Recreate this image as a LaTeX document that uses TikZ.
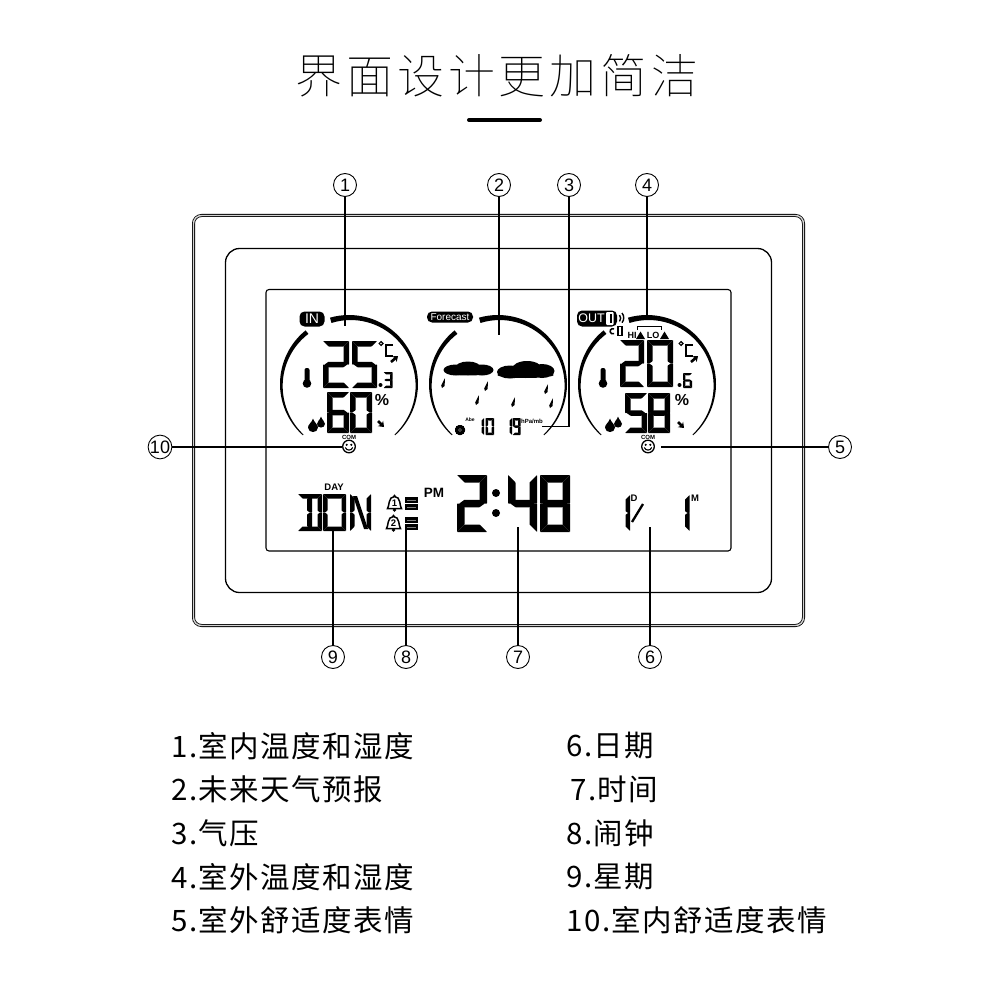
\documentclass[tikz,border=0pt]{standalone}
\usepackage{fontspec}
\setmainfont{Noto Sans CJK SC}
\setsansfont{Liberation Sans}
\newfontfamily\titlefont[LetterSpace=8]{Noto Sans CJK SC Thin}
\newfontfamily\listfont[LetterSpace=5]{Noto Sans CJK SC}
\usetikzlibrary{arrows.meta}
\tikzset{
  callout/.style={draw,circle,line width=0.9pt,minimum size=23pt,inner sep=0pt,font=\sffamily\fontsize{18}{18}\selectfont},
  leader/.style={line width=1.1pt},
  listitem/.style={anchor=west,inner sep=0pt,font=\listfont\fontsize{29.5}{29.5}\selectfont},
  badge/.style={fill=black,rounded corners=5pt,inner sep=0pt,text=white},
  tiny/.style={inner sep=0pt,font=\sffamily\bfseries\fontsize{#1}{#1}\selectfont},
  trend/.style={line width=2.6pt,-{Stealth[length=5pt,width=7.5pt]}},
}
\newcommand{\lcd}[6]{%
  \begin{scope}[shift={(#1,#2)},rounded corners=0.5pt]
    \def\segw{#3}\def\segh{#4}\def\segt{#5}
    \foreach \seg in {#6} \csname lcdseg\seg\endcsname;
  \end{scope}}
\newcommand{\lcdsega}{\fill (0,0)--(\segw,0)--({\segw-\segt},\segt)--(\segt,\segt)--cycle}
\newcommand{\lcdsegd}{\fill (0,\segh)--(\segw,\segh)--({\segw-\segt},{\segh-\segt})--(\segt,{\segh-\segt})--cycle}
\newcommand{\lcdsegf}{\fill (0,0)--(\segt,\segt)--(\segt,{\segh/2-0.4*\segt})--(0.4*\segt,{\segh/2})--(0,{\segh/2})--cycle}
\newcommand{\lcdsege}{\fill (0,\segh)--(\segt,{\segh-\segt})--(\segt,{\segh/2+0.4*\segt})--(0.4*\segt,{\segh/2})--(0,{\segh/2})--cycle}
\newcommand{\lcdsegb}{\fill (\segw,0)--({\segw-\segt},\segt)--({\segw-\segt},{\segh/2-0.4*\segt})--({\segw-0.4*\segt},{\segh/2})--(\segw,{\segh/2})--cycle}
\newcommand{\lcdsegc}{\fill (\segw,\segh)--({\segw-\segt},{\segh-\segt})--({\segw-\segt},{\segh/2+0.4*\segt})--({\segw-0.4*\segt},{\segh/2})--(\segw,{\segh/2})--cycle}
\newcommand{\lcdsegg}{\fill (0.3*\segt,{\segh/2})--(\segt,{\segh/2-\segt/2})--({\segw-\segt},{\segh/2-\segt/2})--({\segw-0.3*\segt},{\segh/2})--({\segw-\segt},{\segh/2+\segt/2})--(\segt,{\segh/2+\segt/2})--cycle}
\newcommand{\gaugearc}[5]{%
  \fill plot[domain=#2:#3,samples=40] ({#1+69*cos(\x)},{384+69*sin(\x)})
    -- plot[domain=#3:#2,samples=40] ({#1+(69-1-(#4-1)*pow((#3-\x)/(#3-#2),#5))*cos(\x)},{384+(69-1-(#4-1)*pow((#3-\x)/(#3-#2),#5))*sin(\x)}) -- cycle;}
\newcommand{\drop}[3]{%
  \fill (#1,{#2-1.7*#3}) .. controls ({#1+0.3*#3},{#2-0.8*#3}) and ({#1+#3},{#2-0.5*#3}) .. ({#1+#3},{#2+0.1*#3})
    .. controls ({#1+#3},{#2+0.7*#3}) and ({#1+0.5*#3},{#2+#3}) .. (#1,{#2+#3})
    .. controls ({#1-0.5*#3},{#2+#3}) and ({#1-#3},{#2+0.7*#3}) .. ({#1-#3},{#2+0.1*#3})
    .. controls ({#1-#3},{#2-0.5*#3}) and ({#1-0.3*#3},{#2-0.8*#3}) .. (#1,{#2-1.7*#3});}
\newcommand{\thermo}[2]{%
  \fill[rounded corners=2pt] ({#1-2.5},{#2-10}) rectangle ({#1+2.5},{#2+4});
  \fill (#1,{#2+5.5}) circle (4.3);}
\newcommand{\smiley}[2]{%
  \draw[line width=1.3pt] (#1,#2) circle (6.3);
  \fill ({#1-2.3},{#2-1.7}) circle (1.2) ({#1+2.3},{#2-1.7}) circle (1.2);
  \draw[line width=1.1pt] ({#1-3.8},{#2+1}) .. controls ({#1-2},{#2+4.5}) and ({#1+2},{#2+4.5}) .. ({#1+3.8},{#2+1});}
\newcommand{\raindrop}[2]{\fill ({#1+2},{#2-5})--({#1+1.6},{#2+3})--({#1-1},{#2+5})--({#1-1.8},{#2+2.5})--cycle;}
\newcommand{\bell}[4]{%
  \draw[line width=1.5pt,fill=white] ({#1-7},{#2+5}) .. controls ({#1-5},{#2+3}) and ({#1-6.5},{#2-7}) .. (#1,{#2-7})
    .. controls ({#1+6.5},{#2-7}) and ({#1+5},{#2+3}) .. ({#1+7},{#2+5}) -- cycle;
  \fill (#1,{#2+6.5}) circle (1.8) (#1,{#2-8}) circle (1.2);
  \node[tiny=9.5] (#3) at (#1,{#2-0.5}) {#4};}
\begin{document}
\begin{tikzpicture}[x=1pt,y=-1pt,line width=0.8pt]
\path[use as bounding box] (0,0) rectangle (1000,1000);
\node[inner sep=0pt,font=\titlefont\fontsize{47}{47}\selectfont] (title) at (497,76) {界面设计更加简洁};
\draw[line width=4pt,line cap=round] (469,120)--(540,120);
\draw[line width=0.8pt,double=gray!35,double distance=1.4pt,rounded corners=8pt] (193.5,215.5) rectangle (803.5,625.5);
\draw[line width=1.3pt,rounded corners=14pt] (225.5,248.5) rectangle (771.5,592.5);
\draw[line width=1.1pt,rounded corners=3pt] (266,289.5) rectangle (731,551);
\foreach \cx in {349,498,647} {
  \gaugearc{\cx}{-106}{48}{5.5}{1}
  \gaugearc{\cx}{231}{132}{4.5}{1}
}
\node[badge,minimum width=25pt,minimum height=15pt,font=\sffamily\fontsize{14}{14}\selectfont] (badgein) at (312,319) {IN};
\node[badge,minimum width=46pt,minimum height=11pt,font=\sffamily\fontsize{10}{10}\selectfont] (badgefc) at (450,317) {Forecast};
\node[badge,minimum width=40pt,minimum height=16pt] (badgeout) at (597,318.5) {};
\node[inner sep=0pt,text=white,font=\sffamily\fontsize{12.5}{12.5}\selectfont] (outtext) at (591.5,318.5) {OUT};
\fill[white,rounded corners=1pt] (606,312) rectangle (613.5,325);
\fill (610,314) rectangle (612,323);
\draw[line width=1.4pt] (619.5,315) arc (-40:40:5) (622,313) arc (-40:40:7.5);
\draw[line width=1.5pt] (614,329) arc (-60:-300:2.6);
\draw[line width=1.2pt] (618,326.5) rectangle (622,335.5);
\draw[line width=0.9pt] (637,330) |- (661,326) -- (661,330);
\node[tiny=9] (hi) at (632,335.5) {HI};
\node[tiny=9] (lo) at (653,335.5) {LO};
\fill (636,339)--(640.5,331.5)--(645,339)--cycle;
\fill (660,339)--(664.5,331.5)--(669,339)--cycle;

\lcd{323}{341}{26}{47}{5.5}{a,b,g,e,d}
\lcd{352}{341}{25}{47}{5.5}{a,f,g,c,d}
\lcd{383.5}{372}{9}{16}{2.4}{a,b,g,c,d}
\fill (380.5,385) circle (2);
\lcd{327}{392}{22}{41}{5.5}{a,f,g,e,c,d}
\lcd{350}{392}{22}{41}{5.5}{a,b,f,e,c,d}
\lcd{620}{340}{24}{47}{5.5}{a,b,g,e,d}
\lcd{647}{340}{26}{47}{5.5}{a,b,f,e,c,d}
\lcd{683}{373}{9}{15}{2.4}{a,f,g,e,c,d}
\fill (679.5,385) circle (2);
\lcd{625}{393}{22}{40}{5.5}{a,f,g,c,d}
\lcd{648}{393}{22}{40}{5.5}{a,b,f,g,e,c,d}
\foreach \ox in {0,300} {
  \draw[line width=1.2pt] ({381+\ox},343.5) circle (1.9);
  \draw[line width=2pt] ({393+\ox},345)--({386+\ox},345)--({386+\ox},355.5)--({393+\ox},355.5);
  \draw[trend] ({391+\ox},362)--({398+\ox},356);
  \node[tiny=16] (pct\ox) at ({382+\ox},400) {\%};
}
\draw[trend] (378,421)--(384,427);
\draw[trend] (678,422)--(684,428);
\thermo{307}{378}
\thermo{603}{378}
\drop{313}{427}{5}
\drop{321}{423.5}{4}
\drop{610}{427}{5}
\drop{618}{423.5}{4}
\smiley{349}{446.5}
\smiley{648}{446.5}
\node[tiny=6] (comin) at (349,437) {COM};
\node[tiny=6] (comout) at (648,437) {COM};

\fill (468,372) ellipse (23.5 and 3.5) (456,370) ellipse (12.5 and 5.5) (468,368) ellipse (13 and 6.5) (482,370) ellipse (11.5 and 5.5);
\fill (525.5,375) ellipse (28 and 3) (510,372) ellipse (13 and 6.5) (527,369) ellipse (15 and 8) (542,371) ellipse (12.5 and 7);
\foreach \rx/\ry in {443/383,486/386,477/400,513/402,546/389,551/403} \raindrop{\rx}{\ry}
\fill (460,430) circle (5);
\draw[gray,line width=0.5pt] (460,430) circle (1.5);
\node[tiny=5] (abe) at (470,420) {Abe};
\lcd{480}{418}{4}{17}{2.5}{b,c}
\lcd{485.5}{418}{8.5}{17}{2.5}{a,b,f,e,c,d}
\lcd{508}{418}{4}{17}{2.5}{b,c}
\lcd{512.5}{418}{8}{17}{2.5}{a,b,f,g,c,d}
\node[tiny=6] (hpa) at (532,421) {hPa/mb};

\node[tiny=9.5] (day) at (334,487) {DAY};
\lcd{298}{494}{24}{37}{4.5}{a,d,b,c}
\lcd{298}{494}{14}{37}{5}{b,c}
\lcd{323}{494}{23}{37}{4.5}{a,b,f,e,c,d}
\lcd{350}{494}{21}{37}{4.5}{f,e,b,c}
\fill (353,496)--(357,496)--(368,529)--(364,529)--cycle;
\node[inner sep=0pt,font=\sffamily\bfseries\fontsize{13.5}{13.5}\selectfont] (pm) at (434,492.5) {PM};
\bell{394.5}{503.5}{belone}{1}
\bell{393.5}{523.5}{beltwo}{2}
\foreach \by in {497,517} {
  \fill (405,\by) rectangle (418,{\by+6});
  \fill (405,{\by+7}) rectangle (418,{\by+13});
  \draw[gray,line width=0.4pt] (407,{\by+3})--(416,{\by+3}) (407,{\by+10})--(416,{\by+10});
}
\lcd{457}{475}{30}{57}{7.5}{a,b,g,e,d}
\fill (496,493) circle (4) (496,513) circle (4);
\lcd{508}{475}{29}{57}{7.5}{f,g,b,c}
\lcd{540}{475}{30}{57}{7.5}{a,b,f,g,e,c,d}
\lcd{624}{495}{6}{36}{4.5}{b,c}
\lcd{684}{495}{5.5}{36}{4.5}{b,c}
\draw[line width=2.3pt] (643,504)--(632,522);
\node[tiny=9.5] (dlabel) at (634,498.5) {D};
\node[tiny=9.5] (mlabel) at (695,498.5) {M};

\foreach \name/\num/\px/\py in {n1/1/345/185,n2/2/499/185,n3/3/569/185,n4/4/647/185,n5/5/840/447,n6/6/650/657,n7/7/518/657,n8/8/406/657,n9/9/333/657,n10/10/160/447}
  \node[callout] (\name) at (\px,\py) {\num};
\coordinate (e1) at (345,326);
\coordinate (e2) at (499,335);
\coordinate (e3) at (542,426.5);
\coordinate (e4) at (647,317);
\coordinate (e5) at (661,447);
\coordinate (e6) at (650,527);
\coordinate (e7) at (518,527);
\coordinate (e8) at (406,528);
\coordinate (e9) at (333,530);
\coordinate (e10) at (342,447);
\draw[leader] (n1)--(e1) (n2)--(e2) (n3)|-(e3) (n4)--(e4) (n5)--(e5)
  (n6)--(e6) (n7)--(e7) (n8)--(e8) (n9)--(e9) (n10)--(e10);

\node[listitem] (l1) at (171,746) {1.室内温度和湿度};
\node[listitem] (l2) at (171,789) {2.未来天气预报};
\node[listitem] (l3) at (171,833) {3.气压};
\node[listitem] (l4) at (171,877) {4.室外温度和湿度};
\node[listitem] (l5) at (171,920) {5.室外舒适度表情};
\node[listitem] (l6) at (566,746) {6.日期};
\node[listitem] (l7) at (570,789) {7.时间};
\node[listitem] (l8) at (566,833) {8.闹钟};
\node[listitem] (l9) at (566,877) {9.星期};
\node[listitem] (l10) at (566,920) {10.室内舒适度表情};
\end{tikzpicture}
\end{document}
